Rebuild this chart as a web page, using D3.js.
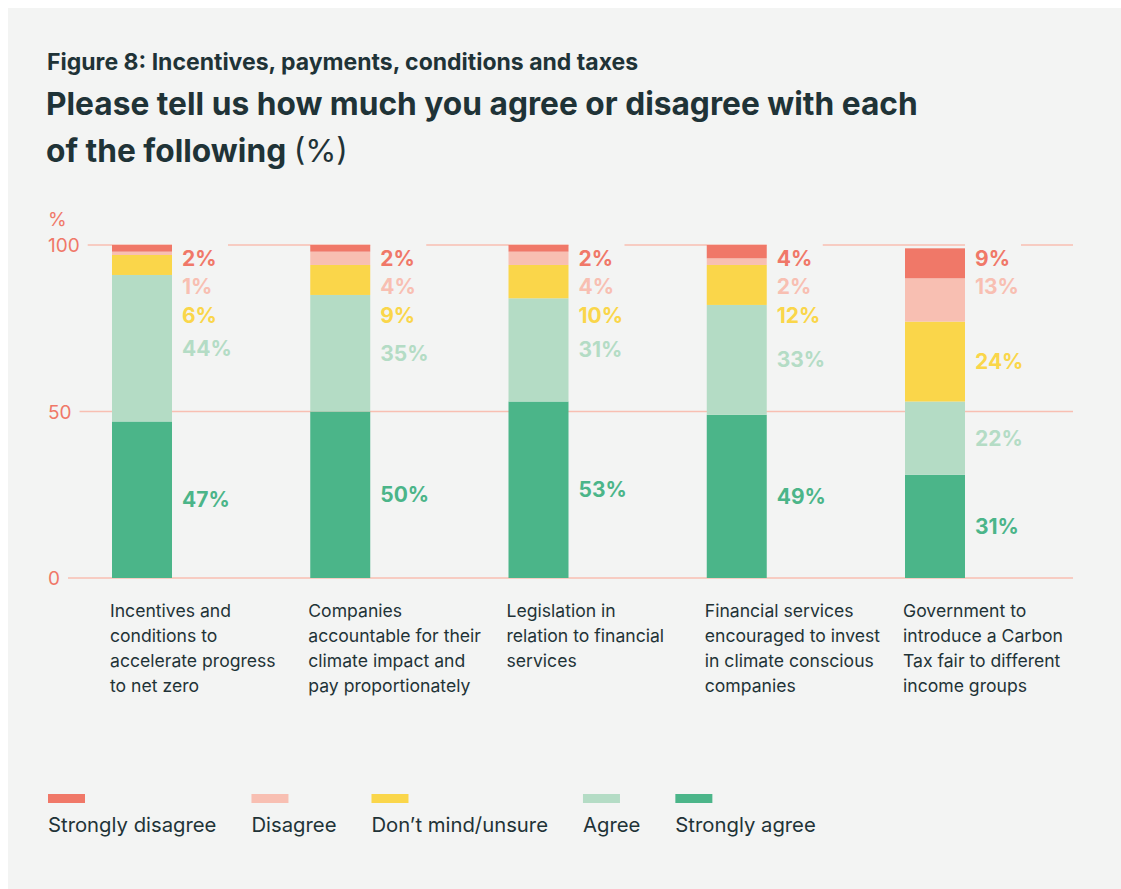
<!DOCTYPE html>
<html>
<head>
<meta charset="utf-8">
<script src="https://cdn.jsdelivr.net/npm/d3@7"></script>
<style>
  html, body { margin: 0; padding: 0; background: #ffffff; }
  svg { display: block; font-family: Inter, "Noto Sans", sans-serif; }
</style>
</head>
<body>
<svg id="chart" width="1121" height="889"></svg>
<script>
// Survey responses, % of respondents per statement
const categories = [
  "Incentives and\nconditions to\naccelerate progress\nto net zero",
  "Companies\naccountable for their\nclimate impact and\npay proportionately",
  "Legislation in\nrelation to financial\nservices",
  "Financial services\nencouraged to invest\nin climate conscious\ncompanies",
  "Government to\nintroduce a Carbon\nTax fair to different\nincome groups"
];
const seriesNames = ["Strongly disagree", "Disagree", "Don\u2019t mind/unsure", "Agree", "Strongly agree"];
const stronglyDisagree = [2, 2, 2, 4, 9];
const disagree = [1, 4, 4, 2, 13];
const unsure = [6, 9, 10, 12, 24];
const agree = [44, 35, 31, 33, 22];
const stronglyAgree = [47, 50, 53, 49, 31];
const yTicks = [0, 50, 100];

const colors = ["#f07868", "#f8bfb2", "#fad64a", "#b4dcc5", "#4bb589"];
const ink = "#1f3337";
const bg = "#f3f4f3";

const svg = d3.select("#chart");
svg.append("rect").attr("x", 8).attr("y", 8).attr("width", 1113).attr("height", 881).attr("fill", bg);

// Titles
svg.append("text").attr("x", 47).attr("y", 70)
  .attr("font-size", 23).attr("font-weight", 700).attr("fill", ink)
  .text("Figure 8: Incentives, payments, conditions and taxes");
svg.append("text").attr("x", 46).attr("y", 115)
  .attr("font-size", 31.7).attr("font-weight", 700).attr("fill", ink)
  .text("Please tell us how much you agree or disagree with each");
const t2 = svg.append("text").attr("x", 46).attr("y", 162)
  .attr("font-size", 31.7).attr("fill", ink);
t2.append("tspan").attr("font-weight", 700).text("of the following ");
t2.append("tspan").attr("font-weight", 400).text("(%)");

// Rows: one object per statement, built from the arrays above
const stackOrder = [4, 3, 2, 1, 0]; // bottom to top: strongly agree ... strongly disagree
const valuesBySeries = [stronglyDisagree, disagree, unsure, agree, stronglyAgree];
const rows = categories.map((c, i) => {
  const r = { category: c };
  seriesNames.forEach((s, k) => r[s] = valuesBySeries[k][i]);
  return r;
});
const stack = d3.stack().keys(stackOrder.map(k => seriesNames[k]))(rows);

const x = d3.scaleBand().domain(categories).range([112, 965]).paddingInner(0.6974).paddingOuter(0).align(0);
const y = d3.scaleLinear().domain([0, 100]).range([578, 245]);

// Y axis ticks and gridlines
const axisColor = "#f07868";
const gridColor = "#f8bfb2";
svg.append("text").attr("x", 48).attr("y", 226).attr("font-size", 19)
  .attr("fill", axisColor).text("%");
const tickG = svg.append("g");
yTicks.forEach(t => {
  const lbl = tickG.append("text").attr("x", 48).attr("y", y(t) + 7)
    .attr("font-size", 19).attr("fill", axisColor).text(t);
  const w = lbl.node().getComputedTextLength();
  tickG.append("line").attr("x1", 48 + w + 8).attr("x2", 1073)
    .attr("y1", y(t)).attr("y2", y(t))
    .attr("stroke", gridColor).attr("stroke-width", 1.5);
});

// Clear the top gridline beside each bar where the first value label sits
svg.append("g").selectAll("rect").data(categories).join("rect")
  .attr("x", d => x(d) + x.bandwidth()).attr("y", y(100) - 3)
  .attr("width", 56).attr("height", 6).attr("fill", bg);

// Stacked bars
svg.append("g").selectAll("g").data(stack).join("g")
  .attr("fill", d => colors[seriesNames.indexOf(d.key)])
  .selectAll("rect").data(d => d).join("rect")
  .attr("x", d => x(d.data.category))
  .attr("width", x.bandwidth())
  .attr("y", d => y(d[1]))
  .attr("height", d => y(d[0]) - y(d[1]));

// Value labels: listed in rows from the top, dropping to segment centre when there is room
const labelG = svg.append("g").attr("font-size", 21).attr("font-weight", 700);
categories.forEach((c, i) => {
  const slot0 = y(100) + 13, gap = 28.75;
  seriesNames.forEach((s, k) => {
    const layer = stack.find(l => l.key === s)[i];
    const centre = (y(layer[0]) + y(layer[1])) / 2;
    const slot = slot0 + gap * k;
    const cy = k < 2 ? slot : Math.max(centre, slot);
    labelG.append("text")
      .attr("x", x(c) + x.bandwidth() + 10)
      .attr("y", cy + 7.6)
      .attr("fill", colors[k])
      .text(valuesBySeries[k][i] + "%");
  });
});

// Category labels
const catG = svg.append("g").attr("font-size", 17.6).attr("fill", ink);
categories.forEach(c => {
  const t = catG.append("text").attr("x", x(c) - 2).attr("y", 617);
  c.split("\n").forEach((line, j) => {
    t.append("tspan").attr("x", x(c) - 2).attr("dy", j === 0 ? 0 : 25).text(line);
  });
});

// Legend
const legG = svg.append("g");
let lx = 48;
seriesNames.forEach((s, k) => {
  legG.append("rect").attr("x", lx).attr("y", 794).attr("width", 37).attr("height", 9).attr("fill", colors[k]);
  const t = legG.append("text").attr("x", lx).attr("y", 832).attr("font-size", 20.3).attr("fill", ink).text(s);
  lx += t.node().getComputedTextLength() + 35;
});
</script>
</body>
</html>
